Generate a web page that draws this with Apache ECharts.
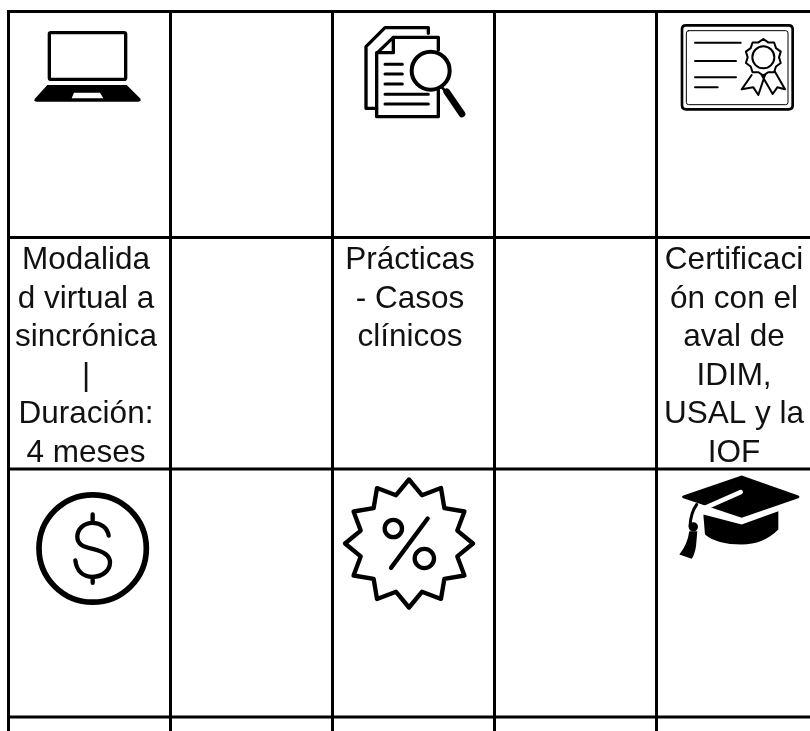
<!DOCTYPE html>
<html>
<head>
<meta charset="utf-8">
<style>
  html, body { margin: 0; padding: 0; background: #fff; }
  #chart { width: 810px; height: 731px; }
</style>
</head>
<body>
<div id="chart"></div>
<script src="https://cdn.jsdelivr.net/npm/echarts@6/dist/echarts.min.js"></script>
<script>
// table content, one entry per column
const topIcons = ["laptop", null, "docs", null, "certificate"];
const labels = [
  "Modalida\nd virtual a\nsincrónica\n|\nDuración:\n4 meses",
  "",
  "Prácticas\n- Casos\nclínicos",
  "",
  "Certificaci\nón con el\naval de\nIDIM,\nUSAL y la\nIOF"
];
const bottomIcons = ["dollar", null, "percent", null, "cap"];
const lastRow = ["", "", "", "", ""];

// y axis runs in pixels from the top border, rows are not the same height
const rowTops = [0, 226, 457.5, 705.5];

// icon shapes, drawn at 3x and scaled down in renderItem
const star = (cx, cy, r1, r2, n) => {
  let d = "";
  for (let i = 0; i < n * 2; i++) {
    const r = i % 2 ? r2 : r1;
    const a = (Math.PI * i) / n;
    d += (i ? "L" : "M") + (cx + r * Math.sin(a)).toFixed(1) + " " + (cy - r * Math.cos(a)).toFixed(1);
  }
  return d + "Z";
};
const ring = (cx, cy, r) =>
  `M${cx - r} ${cy}A${r} ${r} 0 1 1 ${cx + r} ${cy}A${r} ${r} 0 1 1 ${cx - r} ${cy}Z`;

const iconDefs = {
  laptop: {
    dx: -89.5,
    dy: -11.5,
    parts: [
      { d: "M153 98H372Q377 98 377 103V233Q377 238 372 238H153Q148 238 148 233V103Q148 98 153 98Z", width: 10 },
      { d: "M142 255H380L420 295Q426 305 415 305H110Q98 305 106 295Z", fill: "#000" },
      { d: "M222 278H300L310 295H215Z", fill: "#fff" }
    ]
  },
  docs: {
    dx: -73.5,
    dy: -11.5,
    parts: [
      { d: "M265 100V83H135L78 140V325H110", width: 10 },
      { d: "M295 150V112H160L110 160V350H295V268", width: 10 },
      { d: "M160 112V158H110", width: 10 },
      { d: "M135 193H187M135 222H187M135 252H187M135 283H265M135 312H265", width: 9 },
      { d: ring(272, 212, 57), width: 12 },
      { d: "M305 262L322 278", width: 8 },
      { d: "M320 275L366 342", width: 20 }
    ]
  },
  certificate: {
    dx: -87.5,
    dy: -11.5,
    parts: [
      { d: "M108 76H416Q428 76 428 88V316Q428 328 416 328H108Q96 328 96 316V88Q96 76 108 76Z", width: 8 },
      { d: "M116 92H407Q414 92 414 99V307Q414 314 407 314H116Q109 314 109 307V99Q109 92 116 92Z", width: 3 },
      { d: "M135 128H272M135 183H258M135 232H258M135 262H203", width: 6 },
      { d: star(340, 172, 55, 47, 10), width: 6 },
      { d: ring(340, 172, 33), width: 6 },
      { d: "M305 225L275 268L310 262L325 285L345 225", width: 6 },
      { d: "M335 225L368 282L382 262L405 268L375 215", width: 6 }
    ]
  },
  dollar: {
    dx: -89.5,
    dy: -9.5,
    parts: [
      { d: ring(278, 267, 161), width: 17 },
      { d: "M326 228C322 205 302 190 278 190C250 190 232 210 232 232C232 255 250 262 278 268C308 275 330 285 330 308C330 332 308 352 278 352C250 352 230 335 226 303", width: 13 },
      { d: "M278 165V190M278 352V370", width: 13 }
    ]
  },
  percent: {
    dx: -83.5,
    dy: -9.5,
    parts: [
      { d: star(237, 252, 192, 150, 12), width: 13 },
      { d: ring(190, 207, 26), width: 13 },
      { d: ring(283, 297, 29), width: 13 },
      { d: "M293 177L183 325", width: 13 }
    ]
  },
  cap: {
    dx: -87.5,
    dy: -9.5,
    parts: [
      { d: "M275 48L445 108Q452 112 445 116L275 175L100 116Q92 112 100 108Z", fill: "#000" },
      { d: "M160 165L275 195L385 155V210Q340 255 275 255Q200 255 165 225Z", fill: "#000" },
      { d: "M272 98L165 145Q150 155 150 190V215", width: 14, stroke: "#fff" },
      { d: "M140 135Q122 160 120 200", width: 9 },
      { d: ring(130, 202, 10), width: 8, fill: "#000" },
      { d: "M118 215H142L138 260Q134 285 125 298L88 285Q112 255 118 215Z", fill: "#000" }
    ]
  }
};

const chart = echarts.init(document.getElementById("chart"));

const iconElement = (name, x, y) => {
  const def = iconDefs[name];
  return {
    type: "group",
    x: x + def.dx,
    y: y + def.dy,
    scaleX: 1 / 3,
    scaleY: 1 / 3,
    children: def.parts.map((p) => ({
      type: "path",
      // far away corners so the path box stays 1:1 with the icon coordinates
      shape: {
        pathData: "M-9000 -9000L-9000 -9000M9000 9000L9000 9000" + p.d,
        x: -9000,
        y: -9000,
        width: 18000,
        height: 18000
      },
      style: {
        fill: p.fill || "none",
        stroke: p.width ? p.stroke || "#000" : "none",
        lineWidth: p.width || 0,
        lineJoin: "round",
        lineCap: "round"
      }
    }))
  };
};

const cellRows = [topIcons, labels, bottomIcons, lastRow];

const option = {
  animation: false,
  grid: { left: 8.5, top: 11.5, width: 810, height: 719.5, outerBoundsMode: "none" },
  xAxis: {
    type: "value",
    min: 0,
    max: 5,
    interval: 1,
    axisLine: { show: false },
    axisTick: { show: false },
    axisLabel: { show: false },
    splitLine: { show: true, lineStyle: { color: "#000", width: 3 } }
  },
  yAxis: {
    type: "value",
    inverse: true,
    min: 0,
    max: 719.5,
    axisLine: { show: false },
    axisTick: { show: false },
    axisLabel: { show: false },
    splitLine: { show: false }
  },
  series: [
    {
      // horizontal borders
      type: "custom",
      silent: true,
      clip: false,
      data: rowTops.map((y) => [0, y]),
      renderItem: (params, api) => {
        const a = api.coord([0, api.value(1)]);
        const b = api.coord([5, api.value(1)]);
        return {
          type: "line",
          shape: { x1: a[0] - 1.5, y1: a[1], x2: b[0], y2: a[1] },
          style: { stroke: "#000", lineWidth: 3 }
        };
      }
    },
    {
      type: "custom",
      silent: true,
      clip: false,
      data: cellRows.flatMap((row, r) => row.map((v, c) => [c, rowTops[r], r])),
      renderItem: (params, api) => {
        const col = api.value(0);
        const value = cellRows[api.value(2)][col];
        if (!value) return { type: "group", children: [] };
        const p = api.coord([col + 0.5, api.value(1)]);
        if (iconDefs[value]) return iconElement(value, p[0], p[1]);
        return {
          type: "text",
          style: {
            text: value,
            x: p[0] - 3.5,
            y: p[1] + 3.5,
            align: "center",
            verticalAlign: "top",
            fontFamily: "Liberation Sans",
            fontSize: 31.5,
            lineHeight: 38.6,
            fill: "#111"
          }
        };
      }
    }
  ]
};
chart.setOption(option);
</script>
</body>
</html>
